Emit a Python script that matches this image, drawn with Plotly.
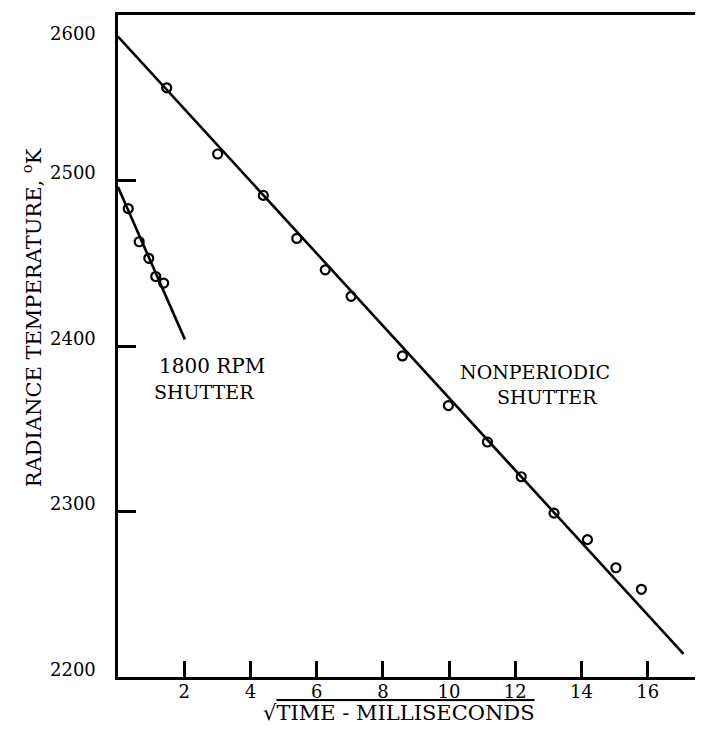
import plotly.graph_objects as go

# Nonperiodic shutter data (sqrt time in ms, radiance temperature K)
np_x = [1.47, 3.01, 4.39, 5.40, 6.26, 7.04, 8.59, 9.98, 11.16, 12.18, 13.17, 14.18, 15.04, 15.81]
np_t = [2556, 2516, 2491, 2465, 2446, 2430, 2394, 2364, 2342, 2321, 2299, 2283, 2266, 2253]
np_fit_x = [0.0, 17.08]
np_fit_t = [2587, 2214]

# 1800 RPM shutter data
rpm_x = [0.31, 0.64, 0.93, 1.14, 1.38]
rpm_t = [2483, 2463, 2453, 2442, 2438]
rpm_fit_x = [0.0, 2.02]
rpm_fit_t = [2496, 2404]

x_ticks = [2, 4, 6, 8, 10, 12, 14, 16]
y_ticks = [2200, 2300, 2400, 2500, 2600]

FONT = "DejaVu Serif"

fig = go.Figure()
fig.add_trace(go.Scatter(x=np_fit_x, y=np_fit_t, mode="lines",
                         line=dict(color="black", width=2.6), showlegend=False))
fig.add_trace(go.Scatter(x=rpm_fit_x, y=rpm_fit_t, mode="lines",
                         line=dict(color="black", width=2.6), showlegend=False))
fig.add_trace(go.Scatter(x=np_x, y=np_t, mode="markers",
                         marker=dict(symbol="circle-open", size=9, color="black",
                                     line=dict(width=2.2, color="black")),
                         showlegend=False))
fig.add_trace(go.Scatter(x=rpm_x, y=rpm_t, mode="markers",
                         marker=dict(symbol="circle-open", size=9, color="black",
                                     line=dict(width=2.2, color="black")),
                         showlegend=False))

annotations = [
    dict(text="1800 RPM", x=1.18, y=2388, xref="x", yref="y", xanchor="left",
         yanchor="middle", showarrow=False, font=dict(size=20, family=FONT)),
    dict(text="SHUTTER", x=1.03, y=2372, xref="x", yref="y", xanchor="left",
         yanchor="middle", showarrow=False, font=dict(size=19, family=FONT)),
    dict(text="NONPERIODIC", x=10.27, y=2384, xref="x", yref="y", xanchor="left",
         yanchor="middle", showarrow=False, font=dict(size=19, family=FONT)),
    dict(text="SHUTTER", x=11.39, y=2369, xref="x", yref="y", xanchor="left",
         yanchor="middle", showarrow=False, font=dict(size=19, family=FONT)),
    dict(text='√<span style="text-decoration:overline">TIME - MILLISECONDS</span>',
         x=0.48, y=-0.055, xref="paper", yref="paper", xanchor="center",
         yanchor="middle", showarrow=False, font=dict(size=21, family=FONT)),
    dict(text="RADIANCE TEMPERATURE, <sup>o</sup>K", textangle=-90,
         x=-0.147, y=0.542, xref="paper", yref="paper", xanchor="center",
         yanchor="middle", showarrow=False, font=dict(size=21, family=FONT)),
]
# y tick labels placed on the y scale (top label sits just below the frame)
for v in y_ticks:
    annotations.append(dict(
        text=str(v), x=0, y=v, xref="paper", yref="y", xanchor="right",
        yanchor="middle", xshift=-20, yshift=(-18 if v == max(y_ticks) else 8),
        showarrow=False, font=dict(size=18, family=FONT)))

fig.update_layout(
    width=695, height=718,
    margin=dict(l=110, r=0, t=7, b=49),
    paper_bgcolor="white", plot_bgcolor="white",
    font=dict(family=FONT, color="black"),
    xaxis=dict(range=[0, 17.67], tickvals=x_ticks, ticktext=[str(v) for v in x_ticks],
               showgrid=False, zeroline=False, showline=True, linewidth=3,
               linecolor="black", mirror=True, ticks="inside", ticklen=16,
               tickwidth=2.5, tickcolor="black", tickfont=dict(size=18, family=FONT),
               ticklabelstandoff=-4),
    yaxis=dict(range=[2200, 2600], tickvals=y_ticks, showticklabels=False,
               showgrid=False, zeroline=False, showline=True, linewidth=3,
               linecolor="black", ticks="inside", ticklen=18, tickwidth=2.5,
               tickcolor="black"),
    annotations=annotations,
)

fig.write_html("out.html")
